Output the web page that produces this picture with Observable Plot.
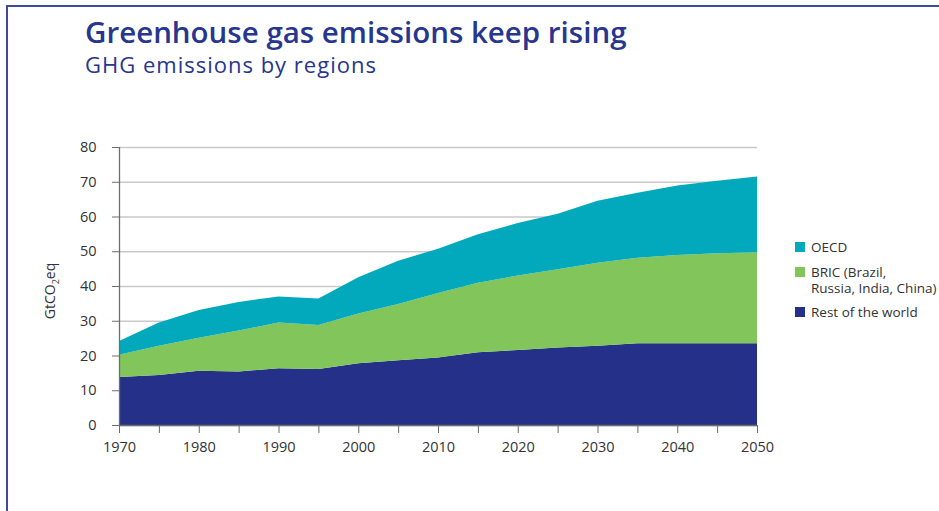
<!DOCTYPE html>
<html><head><meta charset="utf-8">
<script src="https://cdn.jsdelivr.net/npm/d3@7"></script>
<script src="https://cdn.jsdelivr.net/npm/@observablehq/plot@0.6"></script>
<style>
body{margin:0;background:#fff;}
#wrap{position:relative;width:939px;height:511px;overflow:hidden;font-family:"Open Sans",Lato,sans-serif;}
#frame{position:absolute;left:6px;top:5px;width:960px;height:540px;border-top:2px solid #3d4b9c;border-left:2px solid #3d4b9c;}
#chart{position:absolute;left:0;top:0;}
#title{position:absolute;left:85px;top:16px;font-size:29.5px;font-weight:600;color:#27368e;line-height:32px;white-space:nowrap;}
#subtitle{position:absolute;left:85px;top:51px;font-size:22px;letter-spacing:1px;color:#27368e;line-height:26px;white-space:nowrap;}
#legend{position:absolute;left:795px;top:0;font-size:13.5px;color:#333;}
.sw{position:absolute;left:0;width:10px;height:10px;}
.lab{position:absolute;left:16px;line-height:16px;height:16px;white-space:nowrap;}
</style></head>
<body>
<div id="wrap">
  <div id="frame"></div>
  <div id="chart"></div>
  <div id="title">Greenhouse gas emissions keep rising</div>
  <div id="subtitle">GHG emissions by regions</div>
  <div id="legend"></div>
</div>
<script>
const years = [1970,1975,1980,1985,1990,1995,2000,2005,2010,2015,2020,2025,2030,2035,2040,2045,2050];
const restOfWorld = [13.8,14.4,15.6,15.4,16.3,16.1,17.8,18.6,19.4,20.9,21.6,22.3,22.8,23.5,23.5,23.5,23.5];
const bric = [6.4,8.4,9.5,11.8,13.2,12.7,14.3,16.2,18.6,20.0,21.4,22.5,23.9,24.6,25.4,25.9,26.2];
const oecd = [4.0,6.7,8.0,8.2,7.5,7.6,10.4,12.5,12.7,14.0,15.1,16.0,17.8,18.7,20.0,20.9,21.8];
const regions = ["Rest of the world","BRIC","OECD"];
const colors = ["#253189","#82c55a","#02a9bc"];
const yTicks = [0,10,20,30,40,50,60,70,80];
const xTicks = [1970,1975,1980,1985,1990,1995,2000,2005,2010,2015,2020,2025,2030,2035,2040,2045,2050];
const xLabels = [1970,1980,1990,2000,2010,2020,2030,2040,2050];

const series = [restOfWorld, bric, oecd];
const data = [];
regions.forEach((r,i)=>years.forEach((y,j)=>data.push({year:y, region:r, value:series[i][j]})));

const plot = Plot.plot({
  width:939, height:511,
  marginTop:147, marginLeft:119, marginRight:182, marginBottom:86,
  style:{fontFamily:"'Open Sans', Lato, sans-serif", fontSize:"14.5px", color:"#333", background:"transparent", overflow:"visible"},
  x:{domain:[1970,2050]},
  y:{domain:[0,80]},
  color:{domain:regions, range:colors},
  marks:[
    Plot.gridY(yTicks,{stroke:"#c9c9c9", strokeOpacity:1, strokeWidth:1.3}),
    Plot.areaY(data,{x:"year", y:"value", fill:"region", order:regions}),
    Plot.ruleX([1970],{y1:0, y2:80, stroke:"#6d6d6d", strokeWidth:1.3}),
    Plot.ruleY([0],{stroke:"#6d6d6d", strokeWidth:1.3}),
    Plot.axisY(yTicks,{tickSize:7, tickPadding:16, stroke:"#6d6d6d", label:null, fontSize:14.5, fill:"#333"}),
    Plot.axisX(xTicks,{tickSize:8, tickPadding:8, stroke:"#6d6d6d", label:null, fontSize:14.5, fill:"#333",
      tickFormat:d => xLabels.includes(d) ? String(d) : ""})
  ]
});
document.getElementById("chart").appendChild(plot);

const t = d3.select(plot).append("text")
  .attr("transform","translate(55,291) rotate(-90)")
  .attr("text-anchor","middle")
  .attr("font-size","14px").attr("fill","#333");
t.append("tspan").text("GtCO");
t.append("tspan").attr("font-size","9px").attr("dy","4").text("2");
t.append("tspan").attr("dy","-4").text("eq");

const legendItems = [
  {label:["OECD"], color:colors[2], top:239},
  {label:["BRIC (Brazil,","Russia, India, China)"], color:colors[1], top:264},
  {label:["Rest of the world"], color:colors[0], top:304}
];
const lg = document.getElementById("legend");
legendItems.forEach(it=>{
  const s = document.createElement("div"); s.className="sw"; s.style.background=it.color; s.style.top=(it.top+3)+"px";
  lg.appendChild(s);
  it.label.forEach((txt,k)=>{
    const l = document.createElement("div"); l.className="lab"; l.style.top=(it.top+16*k)+"px"; l.textContent=txt;
    lg.appendChild(l);
  });
});
</script>
</body></html>
